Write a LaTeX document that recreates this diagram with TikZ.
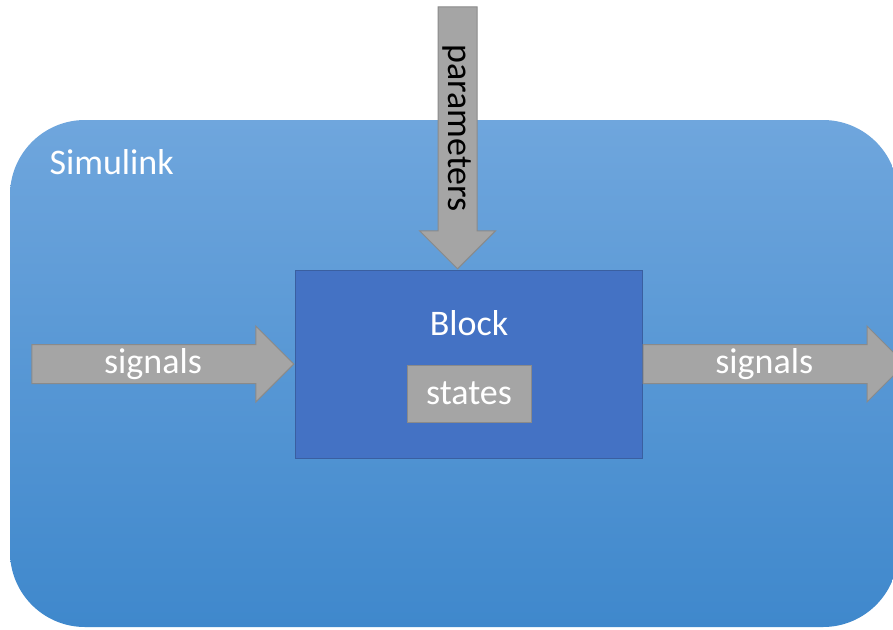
\documentclass[tikz,border=0pt]{standalone}
\usepackage{fontspec}
\setmainfont{Carlito}
\usepackage{tikz}
\usetikzlibrary{
  positioning,
  shapes.arrows
}
\definecolor{simtop}{HTML}{6FA6DD}
\definecolor{simbot}{HTML}{3F88CC}
\definecolor{blockblue}{HTML}{4472C4}
\definecolor{blockedge}{HTML}{3A5FA0}
\definecolor{arrowgray}{HTML}{A5A5A5}
\definecolor{arrowedge}{HTML}{8A8A8A}

\begin{document}
\begin{tikzpicture}[
    x=1pt, y=-1pt,
    bigarrow/.style={shape=single arrow, fill=arrowgray, draw=arrowedge, line width=1pt,
        single arrow head extend=18.5pt, inner xsep=0pt, inner ysep=0pt,
        text height=28.5pt, text depth=9.5pt, minimum height=262pt,
        font=\fontsize{36}{40}\selectfont},
    blockbox/.style={fill=blockblue, draw=blockedge, line width=1pt,
        minimum width=347pt, minimum height=188pt, inner sep=0pt},
    statebox/.style={fill=arrowgray, draw=arrowedge, line width=1pt, text=white,
        minimum width=124pt, minimum height=57pt, inner sep=0pt,
        font=\fontsize{36}{40}\selectfont}
]
    % Rahmen
    \clip (0,0) rectangle (893,629);
    \fill[white] (0,0) rectangle (893,629);

    % Simulink-Umgebung
    \shade[top color=simtop, bottom color=simbot, rounded corners=75pt]
        (10,120) rectangle (898,627);
    \node[text=white, anchor=west, font=\fontsize{36}{40}\selectfont] (sim) at (46,162) {Simulink};

    % Block mit Zustaenden
    \node[blockbox] (block) at (468.5,364) {};
    \node[text=white, font=\fontsize{36}{40}\selectfont] (blocklbl) at (469,323) {Block};
    \node[statebox] (states) at (469,393.5) {states};

    % Pfeile
    \node[bigarrow, text=white, anchor=tip] (sigin) at (block.west) {signals};
    \node[bigarrow, text=white, anchor=tail] (sigout) at (block.east) {signals};
    \node[bigarrow, text=black, rotate=-90, anchor=tip] (param) at ([xshift=-11pt]block.north) {parameters};
\end{tikzpicture}
\end{document}
